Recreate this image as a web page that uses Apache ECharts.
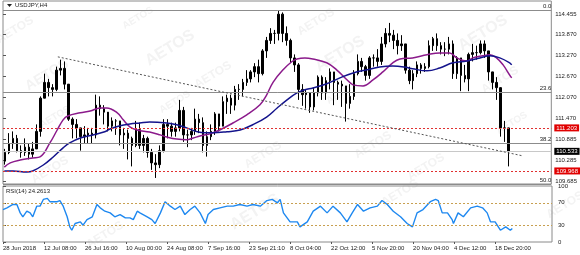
<!DOCTYPE html>
<html><head><meta charset="utf-8">
<script src="https://cdn.jsdelivr.net/npm/echarts@6/dist/echarts.min.js"></script>
<style>html,body{margin:0;padding:0;background:#fff}#c{width:580px;height:255px}</style>
</head><body><div id="c"></div>
<script>
// ---- data (daily OHLC approximating the H4 bars; x in H4-bar units) ----
const firstOpen = 110.25;
const closes = [110.50,110.75,110.90,110.55,110.50,110.65,110.45,110.60,111.10,112.05,
112.50,112.35,112.30,112.85,112.90,112.45,111.45,111.30,111.20,110.95,
111.00,111.05,111.00,111.85,111.75,111.65,111.25,111.40,111.40,111.00,
111.05,110.90,110.70,111.15,110.70,110.90,110.50,110.20,110.15,110.55,
111.30,111.25,111.10,111.20,111.70,111.00,111.00,111.10,111.45,111.35,
110.70,110.95,111.10,111.60,111.25,111.95,112.05,111.85,112.30,112.30,
112.50,112.60,112.80,112.95,112.75,113.40,113.70,113.90,113.90,114.45,
113.90,113.70,113.20,113.00,112.30,112.15,112.20,111.80,112.20,112.65,
112.20,112.55,112.80,112.50,112.45,112.40,111.90,112.10,112.75,113.10,
112.95,112.70,113.20,113.20,113.10,113.60,113.90,113.85,113.70,113.55,
113.60,112.85,112.55,112.75,113.00,112.90,112.95,113.55,113.75,113.55,
113.45,113.45,113.60,112.75,113.20,112.70,112.60,113.30,113.35,113.35,
113.60,113.40,112.80,112.50,112.35,111.20,111.20,110.53];
const highs = [110.60,111.05,111.10,111.00,110.70,110.90,110.75,110.80,111.30,112.10,
112.75,112.60,112.45,112.95,113.15,113.10,112.40,111.50,111.45,111.10,
111.25,111.20,111.20,112.15,112.10,111.85,111.55,111.50,111.45,111.40,
111.20,111.15,110.95,111.40,111.35,111.00,110.95,110.60,110.45,110.70,
111.45,111.45,111.35,111.35,112.00,111.80,111.15,111.20,111.75,111.60,
111.50,111.10,111.30,111.65,111.60,112.10,112.15,112.15,112.40,112.45,
112.60,112.85,112.85,113.05,113.15,113.45,113.80,114.05,114.00,114.55,
114.50,114.10,113.75,113.30,113.05,112.45,112.30,112.15,112.35,112.70,
112.70,112.65,112.90,112.80,112.55,112.55,112.40,112.45,112.85,113.30,
113.20,113.00,113.25,113.30,113.45,113.80,114.05,114.20,114.00,113.90,
113.85,113.60,112.95,112.85,113.10,113.05,113.05,113.70,113.80,113.90,
113.65,113.65,113.80,113.70,113.25,113.20,113.00,113.35,113.60,113.55,
113.70,113.70,113.40,112.70,112.65,112.30,111.40,110.85];
const lows = [110.15,110.45,110.60,110.50,110.35,110.40,110.30,110.35,110.70,110.95,
112.15,112.10,112.10,112.25,112.70,112.30,111.40,110.90,110.90,110.55,
110.75,110.75,110.75,110.90,111.55,111.30,111.10,111.10,111.00,110.70,
110.60,110.30,110.10,110.65,110.60,110.50,110.35,110.00,109.77,110.05,
110.50,110.90,110.95,110.95,111.10,110.80,110.65,110.85,111.00,111.05,
110.50,110.38,110.85,111.00,111.10,111.40,111.60,111.60,111.70,112.00,
112.10,112.40,112.50,112.65,112.50,112.70,113.20,113.60,113.60,113.70,
113.65,113.55,113.05,112.80,112.00,111.83,111.75,111.63,111.70,112.10,
112.00,112.00,112.30,111.85,112.00,111.80,111.38,111.75,112.00,112.70,
112.80,112.55,112.60,112.95,112.95,113.00,113.50,113.65,113.45,113.30,
113.40,112.75,112.45,112.30,112.65,112.75,112.80,112.90,113.40,113.40,
113.30,113.25,113.30,112.60,112.60,112.25,112.50,112.25,113.10,113.15,
113.30,113.20,112.55,112.30,112.00,110.95,110.80,110.10];

const maFastBars = [2,11,26,45,56,71,82,91,98,117,132,147,157,173,182,192,203,222,238,248,263,278,288,298,313,328,348,369,389,399,409,424,437,445,457,469,490,505,521,530,545,560,575,590,601,620,642,661,676,687,702,711,726,737,747,757,767,770];
const maFastVals = [110.08,110.20,110.28,110.34,110.37,110.77,111.14,111.43,111.54,111.63,111.68,111.77,111.77,111.63,111.43,111.23,111.14,111.08,111.00,110.94,110.88,110.86,110.91,110.97,111.03,111.14,111.34,111.57,111.86,112.14,112.51,112.86,113.09,113.17,113.20,113.17,113.06,112.86,112.57,112.43,112.40,112.57,112.80,113.06,113.17,113.20,113.29,113.34,113.34,113.20,113.11,113.20,113.26,113.29,113.20,113.00,112.71,112.63];
const maSlowBars = [2,15,36,45,61,76,91,101,117,136,154,162,177,192,207,222,248,263,278,294,306,318,339,359,378,399,415,430,445,457,469,490,510,530,551,570,590,608,620,642,661,681,702,722,737,752,767,770];
const maSlowVals = [109.97,109.97,109.94,109.97,110.14,110.37,110.63,110.77,110.91,111.00,111.09,111.17,111.26,111.31,111.34,111.37,111.34,111.29,111.20,111.09,111.06,111.06,111.09,111.14,111.29,111.51,111.77,112.00,112.20,112.29,112.34,112.46,112.63,112.77,112.86,112.94,112.97,112.94,112.89,112.83,112.91,113.06,113.11,113.20,113.26,113.20,113.06,113.00];

const rsiBars = [0,6,15,21,26,30,36,41,45,51,56,61,67,71,76,82,86,91,97,101,104,109,117,121,127,135,142,147,154,162,169,177,185,192,197,203,207,218,225,230,238,245,253,260,268,275,283,290,298,306,310,318,328,339,348,358,369,378,389,399,407,415,419,424,434,445,449,460,469,480,490,499,510,520,528,536,545,555,566,573,581,590,601,611,619,626,635,646,654,658,664,672,679,681,688,696,707,717,725,732,737,744,752,760,767,770];
const rsiVals = [58,61,67,67,52,45,55,52,45,64,64,76,78,72,72,72,74,64,45,27,21,33,36,30,40,45,67,61,55,52,45,49,43,43,40,55,52,45,40,33,52,72,64,58,64,49,58,64,52,33,49,58,61,64,64,67,64,67,64,74,76,70,76,52,36,36,27,36,55,64,52,64,52,36,52,67,55,61,64,74,67,55,45,33,27,52,58,72,76,74,52,52,40,33,52,45,61,64,61,52,36,36,21,27,21,24.2613];

const tickBars = [0,62,124,186,248,310,372,434,496,558,620,682,744];
const tickLabels = ['28 Jun 2018','12 Jul 08:00','26 Jul 16:00','10 Aug 00:00','24 Aug 08:00','7 Sep 16:00','23 Sep 21:10','8 Oct 04:00','22 Oct 12:00','5 Nov 20:00','20 Nov 04:00','4 Dec 12:00','18 Dec 20:00'];
const priceTicks = [114.455,113.870,113.270,112.670,112.070,111.470,110.885,110.285,109.685];
const rsiTicks = [100,70,30,0];
const rsiLevels = [70,30];
const fibLevels = [0.0,23.6,38.2,50.0];
const fibHigh = 114.55, fibLow = 104.65;
const redLevels = [111.203,109.968];
const lastPrice = 110.533;
const trendStart = [83,113.23], trendEnd = [787,110.40];
const symbolName = 'USDJPY,H4';
const rsiName = 'RSI(14)';

// ---- build ----
const candleData = closes.map((c,i)=>[6*i+3, i===0?firstOpen:closes[i-1], c, lows[i], highs[i]]);
const FONT = 'Liberation Sans';
const lblStyle = {fontFamily:FONT,fontSize:6,color:'#222'};

const fibLines = fibLevels.map(f=>({
  yAxis: fibHigh - f/100*(fibHigh-fibLow),
  lineStyle:{color:'#8c8c8c',type:'solid',width:1},
  label:{show:true,position:'insideEndTop',formatter:f.toFixed(1),distance:[0,1],...lblStyle}
}));
const redLines = redLevels.map(v=>({
  yAxis:v,
  lineStyle:{color:'#e03030',type:[2,2],width:1},
  label:{show:true,position:'end',distance:3,formatter:v.toFixed(3),backgroundColor:'#e00000',color:'#fff',padding:[1,2,0,2],fontFamily:FONT,fontSize:6}
}));
const lastLine = {
  yAxis:lastPrice,
  lineStyle:{color:'#c8c8c8',type:'solid',width:1},
  label:{show:true,position:'end',distance:3,formatter:lastPrice.toFixed(3),backgroundColor:'#000',color:'#fff',padding:[1,2,0,2],fontFamily:FONT,fontSize:6}
};
const trendLine = [{coord:trendStart,lineStyle:{color:'#555',type:[2,2],width:1},label:{show:false}},{coord:trendEnd}];

const wm = [[15,30,12],[138,18,10],[170,48,16],[47,75,14],[213,75,12],[340,54,16],[342,93,10],[483,33,16],[500,80,12],[512,123,10],[55,117,10],[50,170,12],[175,102,10],[263,155,12],[373,145,12],[426,167,12],[255,212,16],[105,235,12],[400,193,12],[316,22,12],[565,205,12]];
const graphics = wm.map(w=>({type:'text',x:w[0],y:w[1],rotation:0.55,z:-10,silent:true,
  style:{text:'AETOS',fill:'#f3f3f3',font:'bold '+w[2]+'px '+FONT,align:'center',verticalAlign:'middle'}}));
graphics.push({type:'polygon',shape:{points:[[7,4],[12,4],[9.5,7]]},style:{fill:'#222'}});
graphics.push({type:'text',x:15,y:2.5,style:{text:symbolName,fill:'#222',font:'6px '+FONT}});
graphics.push({type:'text',x:6,y:188,style:{text:rsiName+' '+rsiVals[rsiVals.length-1].toFixed(4),fill:'#222',font:'6px '+FONT}});

const chart = echarts.init(document.getElementById('c'),null,{renderer:'canvas'});
chart.setOption({
  animation:false,
  backgroundColor:'#fff',
  grid:[
    {left:3,top:1,width:549,height:183,show:true,borderColor:'#8a8a8a',borderWidth:1},
    {left:3,top:186,width:549,height:56,show:true,borderColor:'#8a8a8a',borderWidth:1}
  ],
  xAxis:[
    {type:'value',gridIndex:0,min:0,max:830,axisLine:{show:false},axisTick:{show:false},axisLabel:{show:false},splitLine:{show:false}},
    {type:'value',gridIndex:1,min:0,max:830,axisLine:{show:false},
     axisTick:{show:true,customValues:tickBars,length:2,lineStyle:{color:'#555'}},
     axisLabel:{show:true,customValues:tickBars,formatter:v=>{const i=tickBars.indexOf(v);return i>=0?tickLabels[i]:'';},align:'left',margin:3,...lblStyle},
     splitLine:{show:false}}
  ],
  yAxis:[
    {type:'value',gridIndex:0,position:'right',min:109.597,max:114.826,axisLine:{show:false},
     axisTick:{show:true,customValues:priceTicks,length:3,lineStyle:{color:'#555'}},
     axisLabel:{show:true,customValues:priceTicks,formatter:v=>v.toFixed(3),margin:4,...lblStyle},
     splitLine:{show:false}},
    {type:'value',gridIndex:1,position:'right',min:0,max:100,axisLine:{show:false},
     axisTick:{show:true,customValues:rsiTicks,length:3,lineStyle:{color:'#555'}},
     axisLabel:{show:true,customValues:rsiTicks,margin:6,...lblStyle},
     splitLine:{show:false}}
  ],
  series:[
    {type:'candlestick',xAxisIndex:0,yAxisIndex:0,data:candleData,barWidth:2,
     itemStyle:{color:'#000',color0:'#000',borderColor:'#000',borderColor0:'#000',borderWidth:1},
     markLine:{silent:true,symbol:['none','none'],animation:false,
       data:[...fibLines,...redLines,lastLine,trendLine]}},
    {type:'line',xAxisIndex:0,yAxisIndex:0,data:maFastBars.map((b,i)=>[b,maFastVals[i]]),
     smooth:0.4,showSymbol:false,lineStyle:{color:'#8b1a8b',width:1.5}},
    {type:'line',xAxisIndex:0,yAxisIndex:0,data:maSlowBars.map((b,i)=>[b,maSlowVals[i]]),
     smooth:0.4,showSymbol:false,lineStyle:{color:'#14148c',width:1.5}},
    {type:'line',xAxisIndex:1,yAxisIndex:1,data:rsiBars.map((b,i)=>[b,rsiVals[i]]),
     showSymbol:false,lineStyle:{color:'#1e88f0',width:1.4},
     markLine:{silent:true,symbol:['none','none'],label:{show:false},
       lineStyle:{color:'#c8a050',type:[2,2],width:1},
       data:rsiLevels.map(v=>({yAxis:v}))}}
  ],
  graphic:graphics
});
</script></body></html>
